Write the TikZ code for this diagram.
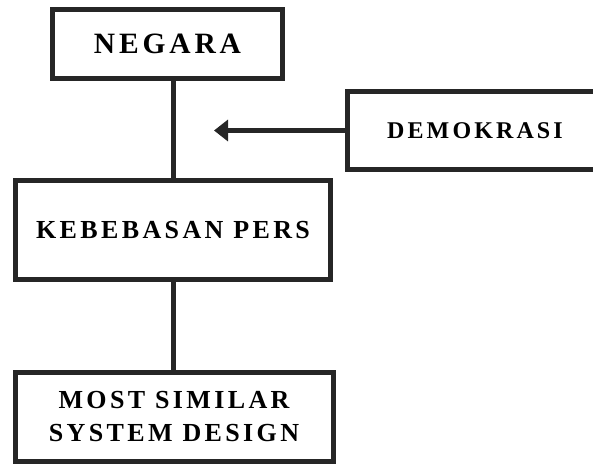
\documentclass[tikz,border=0pt]{standalone}
\usepackage{fontspec}
\setmainfont{Liberation Serif}
\newfontfamily\spacedfont[LetterSpace=13]{Liberation Serif}
\usetikzlibrary{arrows.meta}
\begin{document}
\begin{tikzpicture}[x=1pt,y=-1pt,
  box/.style={draw=black!85, line width=5pt, fill=white, inner sep=0pt, align=center},
  conn/.style={draw=black!85, line width=5pt},
  arr/.style={draw=black!85, line width=4.5pt, -{Triangle[length=14pt,width=21pt]}}
]
\useasboundingbox (0,0) rectangle (593,464);
\node[box, minimum width=230pt, minimum height=69pt,
      font=\spacedfont\bfseries\fontsize{29.5}{35}\selectfont] (negara) at (167.5,44) {NEGARA};
\node[box, minimum width=255pt, minimum height=78pt,
      font=\spacedfont\bfseries\fontsize{24}{28}\selectfont] (demokrasi) at (475,130.5) {DEMOKRASI};
\node[box, minimum width=315pt, minimum height=99pt,
      font=\spacedfont\bfseries\fontsize{26}{32}\selectfont] (kebebasan) at (173,230) {KEBEBASAN PERS};
\node[box, minimum width=318pt, minimum height=89pt,
      font=\spacedfont\bfseries\fontsize{26}{33}\selectfont] (most) at (174,417) {MOST SIMILAR\\SYSTEM DESIGN};
\coordinate (tip) at (214,130.5);
\draw[conn] (negara.south -| kebebasan.north) -- (kebebasan.north);
\draw[conn] (kebebasan.south) -- (kebebasan.south |- most.north);
\draw[arr] (demokrasi.west) -- (tip);
\end{tikzpicture}
\end{document}
